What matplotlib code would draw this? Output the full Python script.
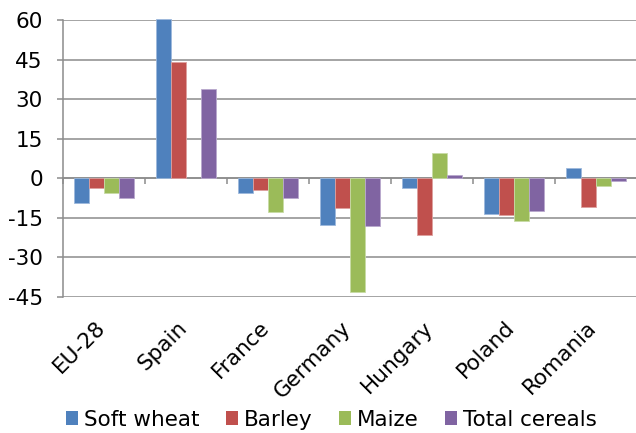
import numpy as np
import matplotlib
matplotlib.use("Agg")
import matplotlib.pyplot as plt
from matplotlib.patches import Patch
from matplotlib.transforms import ScaledTranslation

plt.rcParams["axes.unicode_minus"] = False

# Change in production by country and crop (%)
countries = ["EU-28", "Spain", "France", "Germany", "Hungary", "Poland", "Romania"]
soft_wheat = [-9.4, 60.3, -5.6, -17.8, -3.8, -13.7, 3.8]
barley = [-3.9, 44.0, -4.5, -11.4, -21.8, -14.0, -10.9]
maize = [-5.6, np.nan, -13.0, -43.4, 9.5, -16.2, -2.9]
total_cereals = [-7.5, 33.9, -7.5, -18.4, 1.2, -12.5, -1.3]

series_names = ["Soft wheat", "Barley", "Maize", "Total cereals"]
series_values = [soft_wheat, barley, maize, total_cereals]
colors = ["#4F81BD", "#C0504D", "#9BBB59", "#8064A2"]
edge_colors = ["#9DB9DC", "#DDA09E", "#C8DBA6", "#B9A8CD"]

y_ticks = [-45, -30, -15, 0, 15, 30, 45, 60]
y_min, y_max = -45, 60

FONT = 15.5
GRID = "#8C8C8C"

fig = plt.figure(figsize=(6.36, 4.33), dpi=100)
ax = fig.add_axes([0.0991, 0.3152, 0.902, 0.6386])

x = np.arange(len(countries))
bar_w = 0.183
n = len(series_names)
for i, (vals, c, ec) in enumerate(zip(series_values, colors, edge_colors)):
    offs = (i - (n - 1) / 2) * bar_w
    ax.bar(x + offs, vals, width=bar_w, color=c, edgecolor=ec,
           linewidth=0.6, zorder=3, clip_on=False)

ax.set_xlim(-0.5, len(countries) - 0.5)
ax.set_ylim(y_min, y_max)
ax.set_yticks(y_ticks)
ax.yaxis.grid(True, color=GRID, linewidth=1.1, zorder=0)
ax.set_axisbelow(True)

for side in ["top", "right", "bottom"]:
    ax.spines[side].set_visible(False)
ax.spines["left"].set_color(GRID)
ax.spines["left"].set_linewidth(1.1)

ax.tick_params(axis="y", direction="out", length=4.5, width=1.1, color=GRID,
               pad=10, labelsize=FONT, labelcolor="black")

# category labels
ax.set_xticks(x)
ax.set_xticklabels(countries, rotation=45, ha="right", va="top",
                   fontsize=FONT)
ax.tick_params(axis="x", length=0, pad=15)
shift = ScaledTranslation(5 / 100, 0, fig.dpi_scale_trans)
for lbl in ax.get_xticklabels():
    lbl.set_transform(lbl.get_transform() + shift)

# category axis line at zero with boundary tick marks
zero_loc = (0 - y_min) / (y_max - y_min)
secax = ax.secondary_xaxis(zero_loc)
secax.set_xticks(np.arange(-0.5, len(countries), 1.0))
secax.set_xticklabels([])
secax.tick_params(axis="x", direction="out", length=4, width=1.1, color=GRID)
secax.spines["bottom"].set_color(GRID)
secax.spines["bottom"].set_linewidth(1.1)
for side in ["top", "left", "right"]:
    if side in secax.spines:
        secax.spines[side].set_visible(False)

handles = [Patch(facecolor=c, edgecolor="none", label=s)
           for c, s in zip(colors, series_names)]
fig.legend(handles=handles, loc="center", bbox_to_anchor=(0.521, 0.031),
           ncol=4, frameon=False, fontsize=FONT, handlelength=0.56,
           handleheight=0.56, handletextpad=0.25, columnspacing=1.25,
           borderpad=0, borderaxespad=0)

fig.savefig("out.png", dpi=100)
